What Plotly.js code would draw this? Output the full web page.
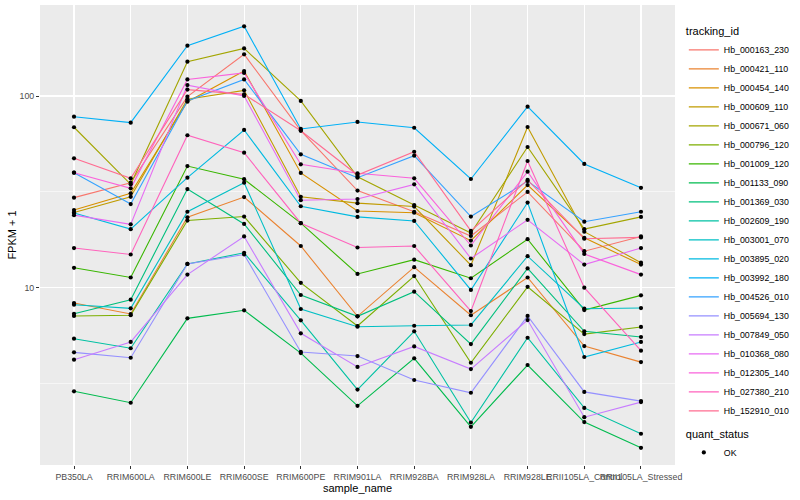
<!DOCTYPE html>
<html><head><meta charset="utf-8">
<script src="https://cdn.plot.ly/plotly-3.0.1.min.js"></script>
<style>html,body{margin:0;padding:0;background:#fff;} #chart{width:800px;height:500px;}</style>
</head><body><div id="chart"></div>
<script>
// categories
const samples = ["PB350LA","RRIM600LA","RRIM600LE","RRIM600SE","RRIM600PE","RRIM901LA","RRIM928BA","RRIM928LA","RRIM928LE","RRII105LA_Control","RRII105LA_Stressed"];
const trackingIds = ["Hb_000163_230","Hb_000421_110","Hb_000454_140","Hb_000609_110","Hb_000671_060","Hb_000796_120","Hb_001009_120","Hb_001133_090","Hb_001369_030","Hb_002609_190","Hb_003001_070","Hb_003895_020","Hb_003992_180","Hb_004526_010","Hb_005694_130","Hb_007849_050","Hb_010368_080","Hb_012305_140","Hb_027380_210","Hb_152910_010"];
const yTickVals = [10, 100];
const yTickText = ["10", "100"];
const yMinorVals = [3.1623, 31.623];
const quantStatus = "OK";

// FPKM + 1 values, one array per tracking_id, in sample order
const Hb_000163_230 = [29.5, 35.3, 99.2, 165, 66.0, 32.1, 24.9, 18.6, 31.6, 15.5, 18.5];
const Hb_000421_110 = [8.32, 7.29, 23.3, 29.7, 16.5, 7.09, 12.8, 7.18, 11.3, 4.96, 4.09];
const Hb_000454_140 = [25.4, 31.1, 93.4, 135, 39.7, 25.1, 24.6, 17.6, 34.3, 18.2, 13.2];
const Hb_000609_110 = [24.7, 29.8, 96.1, 107, 29.8, 27.6, 26.5, 13.1, 68.9, 19.6, 13.5];
const Hb_000671_060 = [68.7, 34.6, 151, 177, 94.2, 37.9, 27.0, 19.3, 54.2, 20.2, 23.4];
const Hb_000796_120 = [7.12, 7.18, 22.4, 23.5, 10.6, 6.31, 11.5, 4.06, 10.1, 5.73, 6.24];
const Hb_001009_120 = [12.7, 11.3, 43.1, 36.8, 21.7, 11.8, 14.0, 11.2, 17.9, 7.64, 9.12];
const Hb_001133_090 = [2.88, 2.51, 6.92, 7.62, 4.56, 2.42, 4.28, 1.88, 3.95, 1.99, 1.46];
const Hb_001369_030 = [7.31, 8.66, 32.7, 21.5, 9.16, 7.09, 9.53, 5.08, 12.6, 5.92, 5.53];
const Hb_002609_190 = [5.42, 4.83, 13.3, 15.2, 6.76, 2.94, 5.92, 1.98, 5.48, 2.36, 1.73];
const Hb_003001_070 = [8.15, 7.80, 24.9, 35.3, 7.74, 6.26, 6.33, 6.39, 14.6, 7.77, 7.83];
const Hb_003895_020 = [24.5, 20.2, 37.5, 66.5, 26.6, 23.4, 22.3, 9.73, 27.8, 4.35, 5.21];
const Hb_003992_180 = [78.0, 72.6, 183, 231, 67.3, 73.2, 68.3, 36.9, 88.0, 44.2, 33.2];
const Hb_004526_010 = [39.8, 27.3, 94.2, 122, 49.6, 37.5, 48.8, 23.5, 36.0, 22.1, 24.9];
const Hb_005694_130 = [4.60, 4.31, 13.3, 14.9, 4.62, 4.40, 3.30, 2.83, 7.12, 2.86, 2.56];
const Hb_007849_050 = [4.21, 5.21, 11.7, 18.5, 5.78, 3.86, 4.94, 3.76, 6.78, 2.11, 2.53];
const Hb_010368_080 = [23.9, 21.4, 114, 100, 28.6, 29.0, 34.6, 14.2, 22.6, 13.2, 16.1];
const Hb_012305_140 = [39.8, 33.0, 122, 132, 44.0, 39.5, 37.2, 16.6, 40.3, 15.0, 11.7];
const Hb_027380_210 = [16.1, 14.9, 62.4, 50.6, 21.7, 16.2, 16.5, 7.55, 45.8, 10.0, 4.69];
const Hb_152910_010 = [47.3, 37.2, 108, 102, 65.9, 38.7, 51.2, 19.8, 36.5, 18.0, 18.3];

const seriesValues = [Hb_000163_230, Hb_000421_110, Hb_000454_140, Hb_000609_110, Hb_000671_060, Hb_000796_120, Hb_001009_120, Hb_001133_090, Hb_001369_030, Hb_002609_190, Hb_003001_070, Hb_003895_020, Hb_003992_180, Hb_004526_010, Hb_005694_130, Hb_007849_050, Hb_010368_080, Hb_012305_140, Hb_027380_210, Hb_152910_010];

// styles (ggplot hue palette)
const lineColors = ["#F8766D","#EA8331","#D89000","#C09B00","#A3A500","#7CAE00","#39B600","#00BB4E","#00BF7D","#00C1A3","#00BFC4","#00BAE0","#00B0F6","#35A2FF","#9590FF","#C77CFF","#E76BF3","#FA62DB","#FF62BC","#FF6C91"];

const FONT = "Liberation Sans, Arial, Helvetica, sans-serif";

const traces = trackingIds.map((id, i) => ({
  type: "scatter", mode: "lines", name: id,
  x: samples, y: seriesValues[i],
  line: {color: lineColors[i], width: 1.1},
  legend: "legend", showlegend: true
}));

const allX = [], allY = [];
seriesValues.forEach(vals => vals.forEach((v, j) => { allX.push(samples[j]); allY.push(v); }));
traces.push({
  type: "scatter", mode: "markers", name: quantStatus,
  x: allX, y: allY,
  marker: {color: "#000000", size: 4.2, symbol: "circle"},
  legend: "legend2", showlegend: true
});

const layout = {
  width: 800, height: 500,
  margin: {l: 40, r: 112, t: 5, b: 35, pad: 0},
  paper_bgcolor: "#FFFFFF", plot_bgcolor: "#EBEBEB",
  font: {family: FONT, size: 9, color: "#000"},
  xaxis: {
    type: "category", range: [-0.6, 10.6],
    showgrid: true, gridcolor: "#FFFFFF", gridwidth: 1.1,
    zeroline: false, showline: false,
    ticks: "outside", ticklen: 3, tickcolor: "#333333", tickwidth: 1,
    tickfont: {family: FONT, size: 8.8, color: "#4D4D4D"},
    tickangle: 0,
    title: {text: "sample_name", font: {family: FONT, size: 11, color: "#000"}, standoff: 3},
    automargin: false, fixedrange: true
  },
  yaxis: {
    type: "log", range: [0.075, 2.4747],
    tickvals: yTickVals, ticktext: yTickText,
    showgrid: true, gridcolor: "#FFFFFF", gridwidth: 1.1,
    minor: {tickvals: yMinorVals, showgrid: true, gridcolor: "#FFFFFF", gridwidth: 0.55, ticks: ""},
    zeroline: false, showline: false,
    ticks: "outside", ticklen: 3, tickcolor: "#333333", tickwidth: 1,
    tickfont: {family: FONT, size: 8.8, color: "#4D4D4D"},
    title: {text: "FPKM + 1", font: {family: FONT, size: 11, color: "#000"}, standoff: 0},
    automargin: false, fixedrange: true
  },
  legend: {
    x: 1.0139, xanchor: "left", y: 0.965, yanchor: "top",
    title: {text: "tracking_id", font: {family: FONT, size: 11, color: "#000"}},
    font: {family: FONT, size: 8.8, color: "#000"},
    bgcolor: "rgba(255,255,255,0)", itemwidth: 30, tracegroupgap: 0
  },
  legend2: {
    x: 1.0139, xanchor: "left", y: 0.09, yanchor: "top",
    title: {text: "quant_status", font: {family: FONT, size: 11, color: "#000"}},
    font: {family: FONT, size: 8.8, color: "#000"},
    bgcolor: "rgba(255,255,255,0)", itemwidth: 30
  },
  showlegend: true, hovermode: false
};

Plotly.newPlot("chart", traces, layout, {staticPlot: true, displayModeBar: false});
</script>
</body></html>
